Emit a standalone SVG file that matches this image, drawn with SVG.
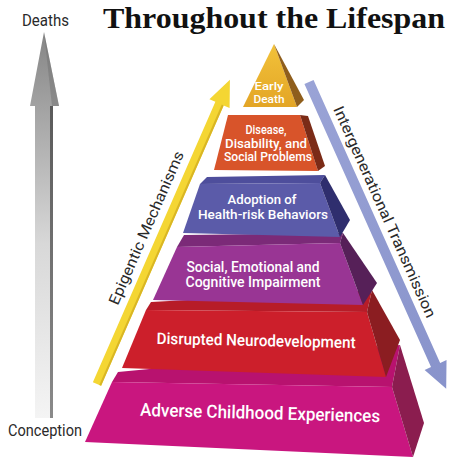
<svg xmlns="http://www.w3.org/2000/svg" width="449" height="458" viewBox="0 0 449 458">
<defs>
<linearGradient id="gGray" x1="0" y1="0" x2="0" y2="1">
<stop offset="0" stop-color="#858585"/>
<stop offset="0.55" stop-color="#d8d8d8"/>
<stop offset="1" stop-color="#f4f4f4"/>
</linearGradient>
<linearGradient id="gGrayS" x1="0" y1="0" x2="0" y2="1">
<stop offset="0" stop-color="#5a5a5a"/>
<stop offset="1" stop-color="#8a8a8a"/>
</linearGradient>
<linearGradient id="gYel" x1="0" y1="0" x2="0" y2="1">
<stop offset="0" stop-color="#f2c23a"/>
<stop offset="1" stop-color="#e3a526"/>
</linearGradient>
<linearGradient id="gBlueArr" x1="0" y1="0" x2="1" y2="0">
<stop offset="0" stop-color="#9aa3d6"/>
<stop offset="1" stop-color="#8893cb"/>
</linearGradient>
</defs>
<style>
.t{font-family:Roboto,"Liberation Sans",sans-serif;font-weight:500;fill:#fff;text-anchor:middle}
.lab{font-family:Roboto,"Liberation Sans",sans-serif;font-weight:400;fill:#2a2a2a}
.title{font-family:"Liberation Serif","DejaVu Serif",serif;font-weight:900;fill:#111}
</style>

<text class="title" x="103" y="28" font-size="30" textLength="342" lengthAdjust="spacingAndGlyphs">Throughout the Lifespan</text>

<g id="timeline">
<polygon points="44,32 59,106 51,106 51,418 35,418 35,106 30,106" fill="url(#gGray)"/>
<polygon points="44,32 59,106 52,106" fill="#6e6e6e" opacity="0.45"/>
<rect x="50" y="106" width="3" height="312" fill="url(#gGrayS)"/>
<text class="lab" x="22" y="26" font-size="16" textLength="47" lengthAdjust="spacingAndGlyphs">Deaths</text>
<text class="lab" x="8" y="436" font-size="16" textLength="74" lengthAdjust="spacingAndGlyphs">Conception</text>
</g>

<g id="connectors">
<g id="epigenetic" transform="translate(97,384) rotate(-66.4)">
<polygon points="0,-4.5 306,-4.5 306,-11 332,0 306,11 306,4.5 0,4.5" fill="#f4d633"/>
<polygon points="0,2.5 306,2.5 306,4.5 0,4.5" fill="#d9b624"/>
</g>
<text class="lab" transform="translate(151,230) rotate(-66.4)" text-anchor="middle" font-size="15" textLength="166" lengthAdjust="spacingAndGlyphs">Epigentic Mechanisms</text>
<g id="intergenerational" transform="translate(309,82) rotate(65.9)">
<polygon points="0,-5 310,-5 310,-12 336,0 310,12 310,5 0,5" fill="url(#gBlueArr)"/>
</g>
<text class="lab" transform="translate(380,214) rotate(65.9)" text-anchor="middle" font-size="15" textLength="230" lengthAdjust="spacingAndGlyphs">Intergenerational Transmission</text>
</g>

<g id="level-ace">
<polygon points="118,372 400,345 392,387 112,382" fill="#b8126f"/>
<polygon points="112,382 392,387 413,457 85,442" fill="#c9167f"/>
<polygon points="400,345 424,423 413,457 392,387" fill="#8b1d4f"/>
<text class="t" transform="translate(260,419) rotate(1.5)" font-size="18" textLength="240" lengthAdjust="spacingAndGlyphs">Adverse Childhood Experiences</text>
</g>

<g id="level-neuro">
<polygon points="151,302 372,290 367,312 146,310" fill="#b71c28"/>
<polygon points="146,310 367,312 386,377 122,368" fill="#cc1f2b"/>
<polygon points="372,290 400,340 386,377 367,312" fill="#8b1d21"/>
<text class="t" transform="translate(256,346) rotate(1.2)" font-size="16" textLength="199" lengthAdjust="spacingAndGlyphs">Disrupted Neurodevelopment</text>
</g>

<g id="level-social">
<polygon points="184,235 343,233 340,243 177,247" fill="#7b2a78"/>
<polygon points="177,247 340,243 363,305 153,300" fill="#993594"/>
<polygon points="343,233 377,283 363,305 340,243" fill="#562058"/>
<text class="t" x="253" y="272" font-size="14" textLength="133" lengthAdjust="spacingAndGlyphs">Social, Emotional and</text>
<text class="t" x="253" y="287" font-size="14" textLength="135" lengthAdjust="spacingAndGlyphs">Cognitive Impairment</text>
</g>

<g id="level-behaviors">
<polygon points="207,177 325,175 320,183 200,184" fill="#4e4e9c"/>
<polygon points="200,184 320,183 340,237 183,233" fill="#5b5ba9"/>
<polygon points="325,175 350,220 340,237 320,183" fill="#2f2e6e"/>
<text class="t" x="262" y="204" font-size="13.5" textLength="69" lengthAdjust="spacingAndGlyphs">Adoption of</text>
<text class="t" x="263" y="219" font-size="13.5" textLength="130" lengthAdjust="spacingAndGlyphs">Health-risk Behaviors</text>
</g>

<g id="level-disease">
<polygon points="228,115 300,115 318,171 214,170" fill="#d8542a"/>
<polygon points="300,115 308,116 325,166 318,171" fill="#7b2b17"/>
<text class="t" x="266" y="134" font-size="12" textLength="41" lengthAdjust="spacingAndGlyphs">Disease,</text>
<text class="t" x="266" y="147.5" font-size="12" textLength="82" lengthAdjust="spacingAndGlyphs">Disability, and</text>
<text class="t" x="268" y="161" font-size="12" textLength="88" lengthAdjust="spacingAndGlyphs">Social Problems</text>
</g>

<g id="level-death">
<polygon points="274,44 297,107 243,107" fill="url(#gYel)"/>
<polygon points="274,44 304,100 297,107" fill="#8f5e1c"/>
<text class="t" x="269" y="89.5" font-size="11.5" textLength="29" lengthAdjust="spacingAndGlyphs">Early</text>
<text class="t" x="269" y="103" font-size="11.5" textLength="31" lengthAdjust="spacingAndGlyphs">Death</text>
</g>
</svg>
